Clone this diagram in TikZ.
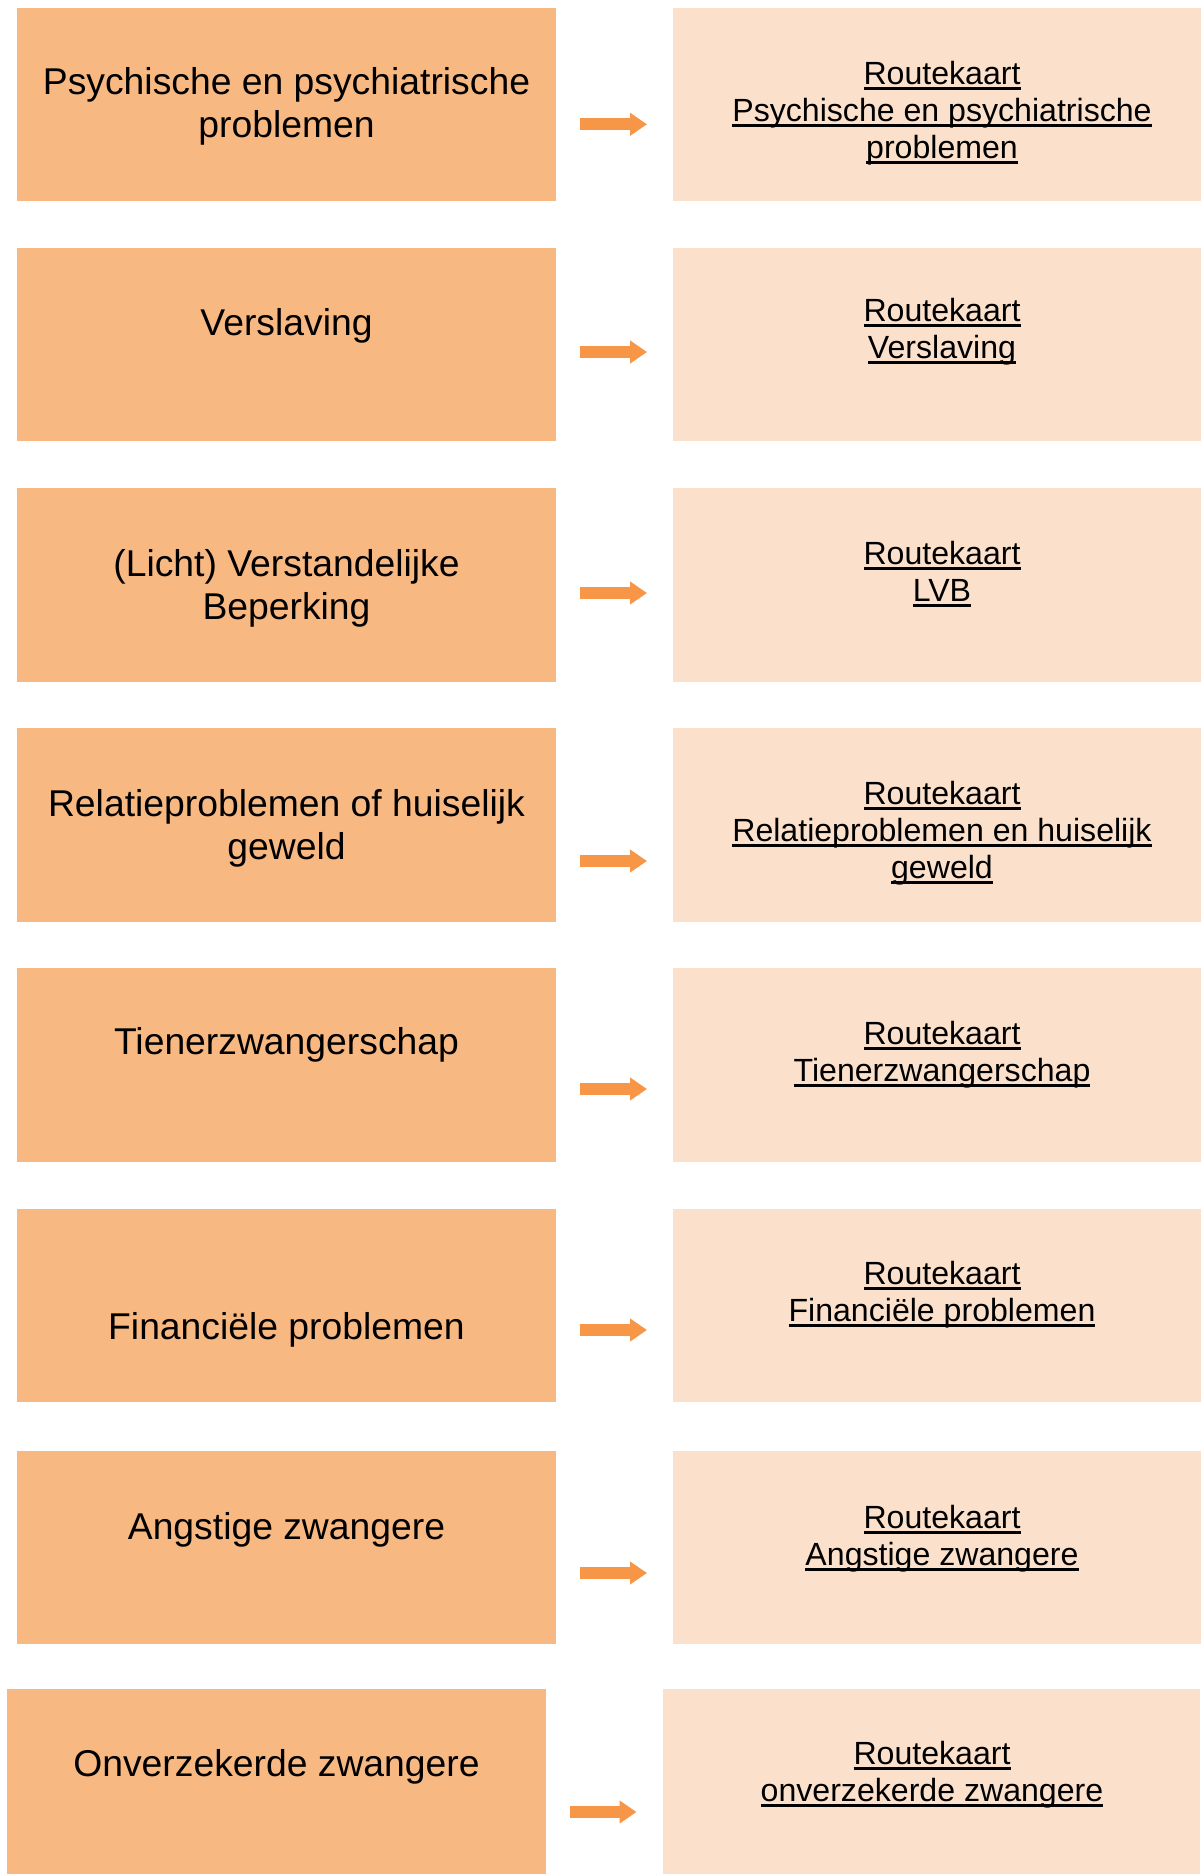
\documentclass[tikz,border=0pt]{standalone}
\usepackage{fontspec}
\setmainfont{Liberation Sans}
\usetikzlibrary{arrows.meta}

\definecolor{topicfill}{HTML}{F8B882}
\definecolor{mapfill}{HTML}{FBE1CB}
\definecolor{arrowfill}{HTML}{F79646}

% underlined text with a thick rule just below the baseline
\newcommand\linkline[1]{\setbox0\hbox{#1}\rlap{\rule[-5.6pt]{\wd0}{3pt}}\box0}

\tikzset{
  topicbox/.style={fill=topicfill, draw=none, minimum width=539pt, minimum height=193.6pt, inner sep=0pt},
  mapbox/.style={fill=mapfill, draw=none, minimum width=537pt, minimum height=193.6pt, inner sep=0pt},
  topictext/.style={anchor=base, inner sep=0pt, font=\fontsize{37.3}{43}\selectfont},
  maptext/.style={anchor=base, inner sep=0pt, font=\fontsize{32.1}{37}\selectfont},
  linkarrow/.style={draw=arrowfill, line width=12pt, -{Triangle[width=22pt,length=17pt,fill=arrowfill]}},
}

% one text line per node, stacked from a first baseline downwards
\newcommand\topiclines[5]{%
  \foreach \ln [count=\k from 0] in {#5} {%
    \node[topictext] (#1-\k) at ({#2},{#3+\k*#4}) {\ln};}}
\newcommand\maplines[5]{%
  \foreach \ln [count=\k from 0] in {#5} {%
    \node[maptext] (#1-\k) at ({#2},{#3+\k*#4}) {\linkline{\ln}};}}

\begin{document}
\begin{tikzpicture}[x=1pt,y=-1pt]
\useasboundingbox[fill=white] (0,0) rectangle (1201,1874);

% row 1
\node[topicbox] (L1) at (286.5,104.4) {};
\node[mapbox] (R1) at (941.5,104.4) {};
\topiclines{t1}{286.5}{94.5}{43}{Psychische en psychiatrische,problemen}
\maplines{m1}{942}{84.3}{37}{Routekaart,Psychische en psychiatrische,problemen}
\coordinate (a1s) at (580,124.3); \coordinate (a1e) at (647,124.3);
\draw[linkarrow] (a1s) -- (a1e);

% row 2
\node[topicbox] (L2) at (286.5,344.6) {};
\node[mapbox] (R2) at (941.5,344.6) {};
\topiclines{t2}{286.5}{335}{43}{Verslaving}
\maplines{m2}{942}{321}{37}{Routekaart,Verslaving}
\coordinate (a2s) at (580,352); \coordinate (a2e) at (647,352);
\draw[linkarrow] (a2s) -- (a2e);

% row 3
\node[topicbox] (L3) at (286.5,584.8) {};
\node[mapbox] (R3) at (941.5,584.8) {};
\topiclines{t3}{286.5}{576.5}{43}{(Licht) Verstandelijke,Beperking}
\maplines{m3}{942}{564.3}{37}{Routekaart,LVB}
\coordinate (a3s) at (580,593); \coordinate (a3e) at (647,593);
\draw[linkarrow] (a3s) -- (a3e);

% row 4
\node[topicbox] (L4) at (286.5,825) {};
\node[mapbox] (R4) at (941.5,825) {};
\topiclines{t4}{286.5}{816.5}{43}{Relatieproblemen of huiselijk,geweld}
\maplines{m4}{942}{804.3}{37}{Routekaart,Relatieproblemen en huiselijk,geweld}
\coordinate (a4s) at (580,861); \coordinate (a4e) at (647,861);
\draw[linkarrow] (a4s) -- (a4e);

% row 5
\node[topicbox] (L5) at (286.5,1065.2) {};
\node[mapbox] (R5) at (941.5,1065.2) {};
\topiclines{t5}{286.5}{1054.5}{43}{Tienerzwangerschap}
\maplines{m5}{942}{1044.3}{37}{Routekaart,Tienerzwangerschap}
\coordinate (a5s) at (580,1089); \coordinate (a5e) at (647,1089);
\draw[linkarrow] (a5s) -- (a5e);

% row 6
\node[topicbox] (L6) at (286.5,1305.4) {};
\node[mapbox] (R6) at (941.5,1305.4) {};
\topiclines{t6}{286.5}{1339}{43}{Financiële problemen}
\maplines{m6}{942}{1284.3}{37}{Routekaart,Financiële problemen}
\coordinate (a6s) at (580,1330); \coordinate (a6e) at (647,1330);
\draw[linkarrow] (a6s) -- (a6e);

% row 7
\node[topicbox] (L7) at (286.5,1547.6) {};
\node[mapbox] (R7) at (941.5,1547.6) {};
\topiclines{t7}{286.5}{1539}{43}{Angstige zwangere}
\maplines{m7}{942}{1528.3}{37}{Routekaart,Angstige zwangere}
\coordinate (a7s) at (580,1573); \coordinate (a7e) at (647,1573);
\draw[linkarrow] (a7s) -- (a7e);

% row 8, set slightly further left
\node[topicbox] (L8) at (276.5,1785.4) {};
\node[mapbox] (R8) at (931.5,1785.4) {};
\topiclines{t8}{276.5}{1776}{43}{Onverzekerde zwangere}
\maplines{m8}{932}{1764.3}{37}{Routekaart,onverzekerde zwangere}
\coordinate (a8s) at (570,1812); \coordinate (a8e) at (636.5,1812);
\draw[linkarrow] (a8s) -- (a8e);
\end{tikzpicture}
\end{document}
